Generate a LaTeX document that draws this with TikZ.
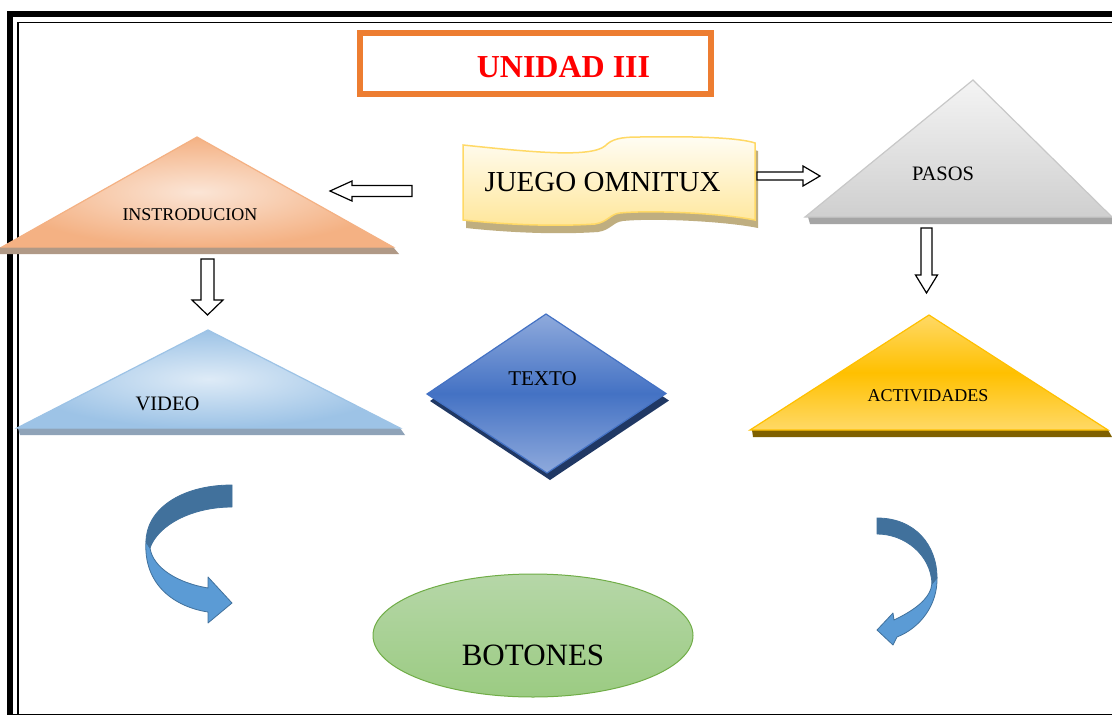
\documentclass[tikz,border=0pt]{standalone}
\usepackage{fontspec}
\setmainfont{Liberation Serif}
\usetikzlibrary{calc}
\definecolor{frameorange}{HTML}{ED7D31}
\definecolor{titlered}{HTML}{FF0000}
\definecolor{peachin}{HTML}{FBE5D6}
\definecolor{peachout}{HTML}{F4B183}
\definecolor{peachshadow}{HTML}{B09986}
\definecolor{greytop}{HTML}{F4F4F4}
\definecolor{greybot}{HTML}{CFCFCF}
\definecolor{greyline}{HTML}{C8C8C8}
\definecolor{greyshadow}{HTML}{A5A5A5}
\definecolor{bluein}{HTML}{DEEBF7}
\definecolor{blueout}{HTML}{9DC3E6}
\definecolor{blueshadow}{HTML}{8FA3B8}
\definecolor{goldlight}{HTML}{FFD966}
\definecolor{golddark}{HTML}{FFC000}
\definecolor{goldshadow}{HTML}{7F6000}
\definecolor{navylight}{HTML}{8FAADC}
\definecolor{navymid}{HTML}{4472C4}
\definecolor{navyshadow}{HTML}{203864}
\definecolor{greentop}{HTML}{B6D7A8}
\definecolor{greenbot}{HTML}{9BCB82}
\definecolor{greenline}{HTML}{70AD47}
\definecolor{wavetop}{HTML}{FFFDF4}
\definecolor{wavebot}{HTML}{FFE699}
\definecolor{waveline}{HTML}{FFD966}
\definecolor{waveshadow}{HTML}{BFAE80}
\definecolor{curvedark}{HTML}{41719C}
\definecolor{curvelight}{HTML}{5B9BD5}
\tikzset{
  hollowarrow/.style={draw=black, fill=white, line width=1.2pt, line join=miter},
  lbl/.style={anchor=base, inner sep=0pt, text=black},
  curvearrow/.style={draw=curvedark, line width=0.8pt, line join=round},
}
\begin{document}
\begin{tikzpicture}[x=1pt,y=-1pt]
\useasboundingbox (0,0) rectangle (1112,715);
\clip (0,0) rectangle (1112,715);
\fill[white] (0,0) rectangle (1112,715);

% double frame
\draw[line width=6pt] (10,13.5) rectangle (1115,716.5);
\draw[line width=1.5pt] (18,22.5) rectangle (1125,725);

% title
\draw[frameorange, line width=6pt] (360,32.5) rectangle (710.5,94);
\node[lbl, text=titlered, font=\bfseries\fontsize{32}{36}\selectfont] (title) at (563.5,77) {UNIDAD III};

% wave: JUEGO OMNITUX
\fill[waveshadow, shift={(3,8)}]
  (463,145) .. controls (530,152) and (590,158) .. (605,146)
  .. controls (612,139) and (620,137) .. (640,137)
  .. controls (700,136) and (740,138) .. (755,143)
  -- (755,220)
  .. controls (720,213) and (650,210) .. (620,213)
  .. controls (610,214) and (608,222) .. (595,224)
  .. controls (550,227) and (500,224) .. (463,220) -- cycle;
\draw[waveline, line width=1.5pt, top color=wavetop, bottom color=wavebot]
  (463,145) .. controls (530,152) and (590,158) .. (605,146)
  .. controls (612,139) and (620,137) .. (640,137)
  .. controls (700,136) and (740,138) .. (755,143)
  -- (755,220)
  .. controls (720,213) and (650,210) .. (620,213)
  .. controls (610,214) and (608,222) .. (595,224)
  .. controls (550,227) and (500,224) .. (463,220) -- cycle;
\node[lbl, font=\fontsize{29}{34}\selectfont] (juego) at (602.5,191.5) {JUEGO OMNITUX};

% INSTRODUCION triangle
\fill[peachshadow] (0,247) -- (393,247) -- (399,254) -- (0,254) -- cycle;
\draw[peachout, line width=1.2pt, shading=radial, inner color=peachin, outer color=peachout]
  (2,247) -- (197,137) -- (393,247) -- cycle;
\node[lbl, font=\fontsize{18}{22}\selectfont] (intro) at (190,220.5) {INSTRODUCION};

% PASOS triangle
\fill[greyshadow] (808,217) -- (1112,217) -- (1112,224) -- (810,224) -- cycle;
\draw[greyline, line width=1.2pt, top color=greytop, bottom color=greybot]
  (805,217) -- (973,80) -- (1112,217) -- cycle;
\node[lbl, font=\fontsize{20.5}{24}\selectfont] (pasos) at (943,180) {PASOS};

% VIDEO triangle
\fill[blueshadow] (18,428) -- (400,428) -- (405,435) -- (20,435) -- cycle;
\draw[blueout, line width=1.2pt, shading=radial, inner color=bluein, outer color=blueout]
  (17,428) -- (208,330) -- (400,428) -- cycle;
\node[lbl, font=\fontsize{20.5}{24}\selectfont] (video) at (167.5,410.5) {VIDEO};

% ACTIVIDADES triangle
\fill[goldshadow] (752,430) -- (1108,430) -- (1112,437) -- (753,437) -- cycle;
\draw[golddark, line width=1.2pt, top color=goldlight, bottom color=goldlight, middle color=golddark]
  (750,430) -- (929,315) -- (1108,430) -- cycle;
\node[lbl, font=\fontsize{18}{22}\selectfont] (activ) at (928,401) {ACTIVIDADES};

% TEXTO diamond
\fill[navyshadow, shift={(3,7)}] (546,314) -- (666,393.5) -- (547,473) -- (427,394) -- cycle;
\draw[navymid, line width=1.2pt, top color=navylight, bottom color=navylight, middle color=navymid]
  (546,314) -- (666,393.5) -- (547,473) -- (427,394) -- cycle;
\node[lbl, font=\fontsize{21}{25}\selectfont] (texto) at (542.5,385) {TEXTO};

% BOTONES ellipse
\draw[greenline, line width=1pt, top color=greentop, bottom color=greenbot]
  (533,635.5) ellipse [x radius=160, y radius=61.5];
\node[lbl, font=\fontsize{31}{36}\selectfont] (botones) at (533,665) {BOTONES};

% hollow block arrows
\coordinate (arrL) at (412,191);
\coordinate (arrR) at (757,176);
\coordinate (arrD1) at (207.5,259);
\coordinate (arrD2) at (926.5,228);
\draw[hollowarrow, shift={(arrL)}]
  (0,-5.5) -- (-60,-5.5) -- (-60,-10) -- (-82,0) -- (-60,10) -- (-60,5.5) -- (0,5.5) -- cycle;
\draw[hollowarrow, shift={(arrR)}]
  (0,-4) -- (46,-4) -- (46,-10) -- (63,0) -- (46,10) -- (46,4) -- (0,4) -- cycle;
\draw[hollowarrow, shift={(arrD1)}]
  (-6.5,0) -- (6.5,0) -- (6.5,41) -- (15.5,41) -- (0,56) -- (-15.5,41) -- (-6.5,41) -- cycle;
\draw[hollowarrow, shift={(arrD2)}]
  (-5.5,0) -- (5.5,0) -- (5.5,47) -- (11,47) -- (0,65) -- (-11,47) -- (-5.5,47) -- cycle;

% left curved arrow
\draw[curvearrow, fill=curvelight]
  (146,541) .. controls (143,585) and (175,607) .. (208,612)
  -- (208,623) -- (232,603) -- (208,577) -- (208,588)
  .. controls (178,583) and (153,568) .. (150,548) -- cycle;
\draw[curvearrow, fill=curvedark]
  (232,485) .. controls (180,485) and (146,510) .. (146,542)
  -- (150,548) .. controls (158,525) and (192,507) .. (232,507) -- cycle;

% right curved arrow
\draw[curvearrow, fill=curvelight]
  (937,577) .. controls (938,605) and (920,628) .. (897,637)
  -- (893,645) -- (877,630) -- (893,613) -- (894,620)
  .. controls (915,610) and (931,598) .. (932,583) -- cycle;
\draw[curvearrow, fill=curvedark]
  (877,518) .. controls (915,518) and (937,545) .. (937,578)
  -- (932,584) .. controls (931,555) and (905,534) .. (877,534) -- cycle;
\end{tikzpicture}
\end{document}
